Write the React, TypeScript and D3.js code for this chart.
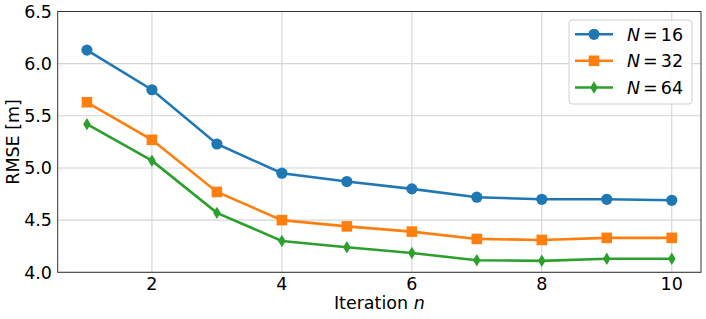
import React from 'react';
import * as d3 from 'd3';

const iterations = [1, 2, 3, 4, 5, 6, 7, 8, 9, 10];
const rmseN16 = [6.13, 5.75, 5.23, 4.95, 4.87, 4.80, 4.72, 4.70, 4.70, 4.69];
const rmseN32 = [5.63, 5.27, 4.77, 4.50, 4.44, 4.39, 4.32, 4.31, 4.33, 4.33];
const rmseN64 = [5.42, 5.07, 4.57, 4.30, 4.24, 4.185, 4.115, 4.11, 4.13, 4.13];
const xTicks = [2, 4, 6, 8, 10];
const yTicks = [4.0, 4.5, 5.0, 5.5, 6.0, 6.5];
const seriesLabels = ['16', '32', '64'];

const W = 706;
const H = 319;
const left = 57.7;
const right = 701;
const top = 11.5;
const bottom = 272.3;
const font = 'DejaVu Sans, sans-serif';

type Marker = 'circle' | 'square' | 'diamond';

const series: { values: number[]; color: string; marker: Marker; label: string }[] = [
  { values: rmseN16, color: '#1f77b4', marker: 'circle', label: seriesLabels[0] },
  { values: rmseN32, color: '#ff7f0e', marker: 'square', label: seriesLabels[1] },
  { values: rmseN64, color: '#2ca02c', marker: 'diamond', label: seriesLabels[2] },
];

const MarkerShape: React.FC<{ type: Marker; x: number; y: number; color: string }> = ({ type, x, y, color }) => {
  if (type === 'circle') return <circle cx={x} cy={y} r={5.6} fill={color} />;
  if (type === 'square') return <rect x={x - 5.3} y={y - 5.3} width={10.6} height={10.6} fill={color} />;
  return (
    <path
      d={`M${x},${y - 6.2}L${x + 3.8},${y}L${x},${y + 6.2}L${x - 3.8},${y}Z`}
      fill={color}
    />
  );
};

const App: React.FC = () => {
  const x = d3.scaleLinear().domain([0.55, 10.45]).range([left, right]);
  const y = d3.scaleLinear().domain([4.0, 6.5]).range([bottom, top]);
  const line = d3
    .line<number>()
    .x((_, i) => x(iterations[i]))
    .y((d) => y(d));

  const legX = 569;
  const legY = 20;
  const rowY = [34.3, 60.8, 87.5];

  return (
    <svg
      width={W}
      height={H}
      style={{ position: 'absolute', left: 0, top: 0, background: '#fff' }}
      fontFamily={font}
    >
      {/* grid */}
      {xTicks.map((t) => (
        <line key={'gx' + t} x1={x(t)} x2={x(t)} y1={top} y2={bottom} stroke="#d4d4d4" strokeWidth={1.1} />
      ))}
      {yTicks.map((t) => (
        <line key={'gy' + t} x1={left} x2={right} y1={y(t)} y2={y(t)} stroke="#d4d4d4" strokeWidth={1.1} />
      ))}

      {/* series */}
      {series.map((s) => (
        <g key={s.label}>
          <path d={line(s.values) || ''} fill="none" stroke={s.color} strokeWidth={2.6} />
          {s.values.map((v, i) => (
            <MarkerShape key={i} type={s.marker} x={x(iterations[i])} y={y(v)} color={s.color} />
          ))}
        </g>
      ))}

      {/* frame */}
      <rect x={left} y={top} width={right - left} height={bottom - top} fill="none" stroke="#333" strokeWidth={1} />

      {/* tick labels */}
      {xTicks.map((t) => (
        <text key={'tx' + t} x={x(t)} y={290} textAnchor="middle" fontSize={17.5} fill="#000">
          {t}
        </text>
      ))}
      {yTicks.map((t) => (
        <text key={'ty' + t} x={52} y={y(t)} dy="0.36em" textAnchor="end" fontSize={17.5} fill="#000">
          {d3.format('.1f')(t)}
        </text>
      ))}

      {/* axis labels */}
      <text x={(left + right) / 2} y={309} textAnchor="middle" fontSize={17.5} fill="#000">
        Iteration <tspan fontStyle="italic">n</tspan>
      </text>
      <text
        transform={`translate(18.5,${(top + bottom) / 2}) rotate(-90)`}
        textAnchor="middle"
        fontSize={17.5}
        fill="#000"
      >
        RMSE [m]
      </text>

      {/* legend */}
      <rect x={legX} y={legY} width={123} height={84} rx={3} fill="#fff" fillOpacity={0.8} stroke="#d0d0d0" strokeWidth={1} />
      {series.map((s, i) => (
        <g key={'leg' + s.label}>
          <line x1={575} x2={613} y1={rowY[i]} y2={rowY[i]} stroke={s.color} strokeWidth={2.6} />
          <MarkerShape type={s.marker} x={594} y={rowY[i]} color={s.color} />
          <text x={627} y={rowY[i]} dy="0.36em" fontSize={17.5} fill="#000">
            <tspan fontStyle="italic">N</tspan>
            <tspan dx={3}>=</tspan>
            <tspan dx={3}>{s.label}</tspan>
          </text>
        </g>
      ))}
    </svg>
  );
};

export default App;
